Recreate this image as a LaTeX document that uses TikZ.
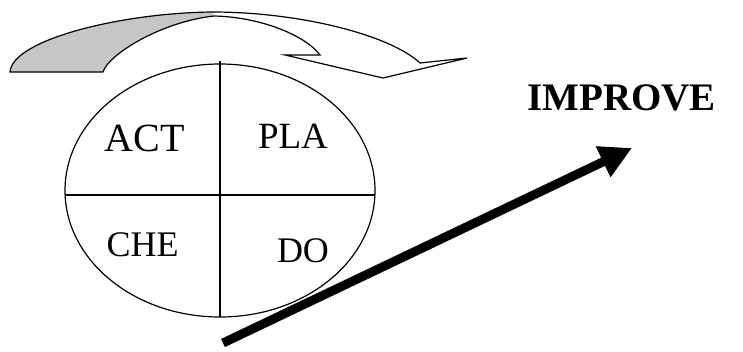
\documentclass[tikz,border=0pt]{standalone}
\usepackage{fontspec}
\setmainfont{Liberation Serif}
\usetikzlibrary{shapes.geometric,arrows.meta}

\tikzset{
  phase/.style={font=\fontsize{#1}{#1}\selectfont, inner sep=0pt},
  rim/.style={line width=1.2pt},
}
\def\turnpath{(10,72) .. controls (12,40) and (120,13) .. (212,12)
  .. controls (300,12) and (390,35) .. (420,63) -- (467,58) -- (383,78)
  -- (285,55) -- (320,55) .. controls (305,35) and (260,17) .. (214,16)
  .. controls (160,22) and (108,55) .. (103,72) -- cycle}

\begin{document}
\begin{tikzpicture}[x=1pt,y=-1pt]
	\useasboundingbox (0,0) rectangle (743,351);
	% turning arrow on top
	\fill[white] \turnpath;
	\begin{scope}
		\clip \turnpath;
		\fill[gray!45] (0,0) rectangle (213,80);
	\end{scope}
	\draw[rim] \turnpath;
	% the cycle
	\node[draw, rim, ellipse, inner sep=0pt, minimum width=310pt, minimum height=253pt] (cycle) at (220,190.5) {};
	\draw[rim] (220,61) -- (220,317);
	\draw[rim] (65,195) -- (375,195);
	\foreach\txt\x\y\s in {ACT/144.5/138.5/40, PLA/293/136/37, CHE/142.5/245/36, DO/303/251/36}
	{\node[phase=\s] (\txt) at (\x,\y) {\txt};}
	% improvement
	\node[phase=39, font=\fontsize{39}{39}\selectfont\bfseries] (improve) at (621.5,97.5) {IMPROVE};
	\coordinate (base) at (223,343);
	\coordinate (tip) at (632,148);
	\draw[line width=9pt, -{Triangle[length=32pt,width=32pt]}] (base) -- (tip);
\end{tikzpicture}
\end{document}
